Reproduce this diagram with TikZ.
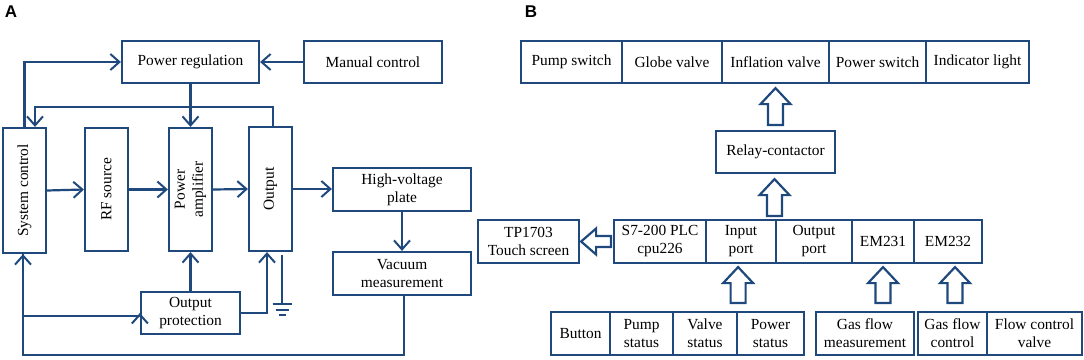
\documentclass[tikz,border=0pt]{standalone}
\usepackage{fontspec}
\setmainfont{Liberation Serif}
\newfontfamily\panelfont{Liberation Sans}
\usetikzlibrary{arrows.meta,calc}
\definecolor{dblue}{RGB}{31,73,125}
\newcommand{\blkup}[4]{%
  \draw[blk] let \p1=#1, \p2=#2 in
    (\x1-7.5pt,\y1+#3pt) -- (\x1-7.5pt,\y2-#4pt-16pt) -- (\x1-15pt,\y2-#4pt-16pt)
    -- (\x1,\y2-#4pt) -- (\x1+15pt,\y2-#4pt-16pt) -- (\x1+7.5pt,\y2-#4pt-16pt)
    -- (\x1+7.5pt,\y1+#3pt) -- cycle;}
\begin{document}
\begin{tikzpicture}[x=1pt,y=-1pt,
  txt/.style={font=\fontsize{15.4}{18}\selectfont,text=black},
  box/.style={draw=dblue,line width=2.2pt,inner sep=0pt,align=center,txt},
  wh/.style 2 args={minimum width=#1pt,minimum height=#2pt},
  rlab/.style={rotate=90,align=center,txt},
  conn/.style={draw=dblue,line width=2.2pt,-{Straight Barb[length=9pt,width=16pt,line width=2pt]}},
  wire/.style={draw=dblue,line width=2.2pt},
  blk/.style={draw=dblue,line width=2.2pt,fill=white,line join=miter},
  plabel/.style={font=\panelfont\bfseries\fontsize{17}{19}\selectfont,text=black}]

\useasboundingbox (0,0) rectangle (1084,359);

% ---------------- Panel A ----------------
\node[plabel] (la) at (11,12) {A};
\node[box,wh={137}{42}] (pr) at (190.5,62) {Power regulation};
\node[box,wh={138}{42}] (mc) at (373,62) {Manual control};
\node[box,wh={43}{125},label={[rlab]center:System control}] (sys) at (24.5,190.5) {};
\node[box,wh={43}{123},label={[rlab]center:RF source}] (rf) at (106.5,189.5) {};
\node[box,wh={43}{123},label={[rlab]center:{Power\\amplifier}}] (pa) at (190.5,189.5) {};
\node[box,wh={43}{124},label={[rlab]center:Output}] (out) at (270.5,189) {};
\node[box,wh={138}{43}] (hv) at (402,189.5) {High-voltage\\plate};
\node[box,wh={138}{43}] (vm) at (402,273.5) {Vacuum\\measurement};
\node[box,wh={99}{42}] (op) at (190.5,313) {Output\\protection};

\draw[conn] (sys.north) |- (pr.west);
\draw[conn] (mc.west) -- (pr.east);
\draw[conn] (pr.south) -- (pa.north);
\draw[conn] ($(out.north)+(2.5,0)$) -- ++(0,-19) -| ($(sys.north)+(10.5,0)$);
\draw[conn] (sys.east) -- (rf.west);
\draw[conn] (rf.east) -- (pa.west);
\draw[conn] (pa.east) -- (out.west);
\draw[conn] (out.east) -- (out.east -| hv.west);
\draw[conn] (hv.south) -- (vm.north);
\draw[conn] ($(vm.south)+(2,0)$) -- ++(0,59) -| ($(sys.south)+(-1.5,0)$);
\draw[conn] ($(sys.south)+(-1.5,0)$) |- ($(op.west)+(0,3)$) -- (op.west);
\draw[conn] (op.north) -- (pa.south);
\draw[conn] (op.east) -| ($(out.south)+(-3.5,0)$);
% ground
\coordinate (gnd) at ($(out.south)+(11.5,3)$);
\draw[wire] (gnd) -- ++(0,49);
\draw[wire,line width=2pt] ($(gnd)+(-9.5,49)$) -- ++(19,0);
\draw[wire,line width=2pt] ($(gnd)+(-6.5,54.5)$) -- ++(13,0);
\draw[wire,line width=2pt] ($(gnd)+(-3.5,60)$) -- ++(7,0);

% ---------------- Panel B ----------------
\node[plabel] (lb) at (531,12) {B};
\node[box,wh={101}{42}] (ps) at (571.5,62) {Pump switch};
\node[box,wh={100}{42}] (gv) at (672,62) {Globe valve};
\node[box,wh={107}{42}] (iv) at (775.5,62) {Inflation valve};
\node[box,wh={97}{42}] (pw) at (877.5,62) {Power switch};
\node[box,wh={103}{42}] (il) at (977.5,62) {Indicator light};

\node[box,wh={119}{42}] (relay) at (775.5,152) {Relay-contactor};

\node[box,wh={92}{43}] (plc) at (660,241.5) {S7-200 PLC\\cpu226};
\node[box,wh={70}{43}] (inp) at (741,241.5) {Input\\port};
\node[box,wh={76}{43}] (outp) at (814,241.5) {Output\\port};
\node[box,wh={62}{43}] (em1) at (883,241.5) {EM231};
\node[box,wh={68}{43}] (em2) at (948,241.5) {EM232};
\node[box,wh={101}{43}] (tp) at (528.5,241.5) {TP1703\\Touch screen};

\node[box,wh={59}{43}] (btn) at (580.5,333.5) {Button};
\node[box,wh={63}{43}] (pst) at (641.5,333.5) {Pump\\status};
\node[box,wh={64}{43}] (vst) at (705,333.5) {Valve\\status};
\node[box,wh={67}{43}] (pwst) at (770.5,333.5) {Power\\status};
\node[box,wh={98}{43}] (gfm) at (865,333.5) {Gas flow\\measurement};
\node[box,wh={69}{43}] (gfc) at (952.5,333.5) {Gas flow\\control};
\node[box,wh={95}{43}] (fcv) at (1034.5,333.5) {Flow control\\valve};

\blkup{(relay.north)}{(iv.south)}{5}{4}
\blkup{($(relay.south |- outp.north)+(-1,0)$)}{(relay.south)}{3}{5}
\blkup{(vst.north east)}{(inp.south)}{8}{3}
\blkup{(em1.south |- gfm.north)}{(em1.south)}{8}{3}
\blkup{($(gfc.north)+(2.5,0)$)}{(em2.south)}{8}{3}
\draw[blk] let \p1=(plc.west), \p2=(tp.east) in
  (\x1-2pt,\y1+5.5pt) -- (\x2+16pt,\y1+5.5pt) -- (\x2+16pt,\y1+13pt) -- (\x2+1pt,\y1)
  -- (\x2+16pt,\y1-13pt) -- (\x2+16pt,\y1-5.5pt) -- (\x1-2pt,\y1-5.5pt) -- cycle;
\end{tikzpicture}
\end{document}
